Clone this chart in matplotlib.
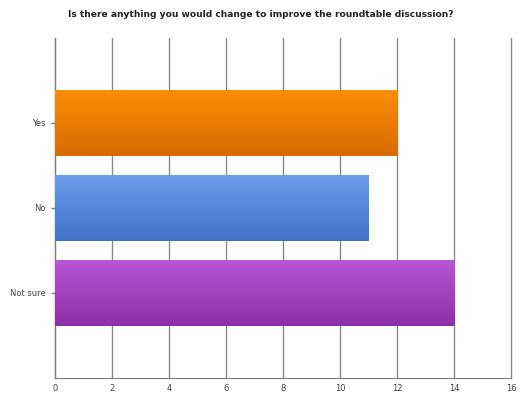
import matplotlib
matplotlib.use("Agg")
import matplotlib.pyplot as plt
import numpy as np
from matplotlib.colors import LinearSegmentedColormap

# Dữ liệu
CATEGORIES = ["Yes", "No", "Not sure"]
COUNTS = [12, 11, 14]
TOP_COLORS = ["#fb8d05", "#6c9de9", "#b957d7"]
BOTTOM_COLORS = ["#d96a02", "#3f72c7", "#8d2fa6"]
X_TICKS = [0, 2, 4, 6, 8, 10, 12, 14, 16]
TITLE = "Is there anything you would change to improve the roundtable discussion?"

fig = plt.figure(figsize=(5.22, 3.94), dpi=100)
ax = fig.add_axes([0.1054, 0.0406, 0.8736, 0.863])

ax.set_xlim(0, 16)
ax.set_ylim(3, -1)
bar_h = 0.78

grad = np.linspace(0, 1, 256).reshape(-1, 1)
for i, (cat, v) in enumerate(zip(CATEGORIES, COUNTS)):
    cmap = LinearSegmentedColormap.from_list(cat, [TOP_COLORS[i], BOTTOM_COLORS[i]])
    bars = ax.barh(i, v, height=bar_h, color="none", edgecolor="none", zorder=3)
    im = ax.imshow(grad, aspect="auto", cmap=cmap, zorder=3,
                   extent=(0, v, i + bar_h / 2, i - bar_h / 2))
    im.set_clip_path(bars[0])

ax.set_xticks(X_TICKS)
ax.set_yticks(range(len(CATEGORIES)))
ax.set_yticklabels(CATEGORIES)
for x in X_TICKS:
    ax.axvline(x, color="#8a8a8a", linewidth=1.0, zorder=0, clip_on=False)
ax.set_xlim(0, 16)
ax.set_ylim(3, -1)

for s in ["top", "right"]:
    ax.spines[s].set_visible(False)
ax.spines["left"].set_color("#7a7a7a")
ax.spines["bottom"].set_color("#7a7a7a")
ax.tick_params(axis="both", labelsize=6, colors="#7a7a7a", labelcolor="#444444",
               length=3, width=1)
ax.tick_params(axis="x", length=0, pad=4)

fig.text(0.5, 0.962, TITLE, ha="center", va="center", fontsize=6.6,
         fontweight="bold", color="#222222")

fig.savefig("out.png", dpi=100)
